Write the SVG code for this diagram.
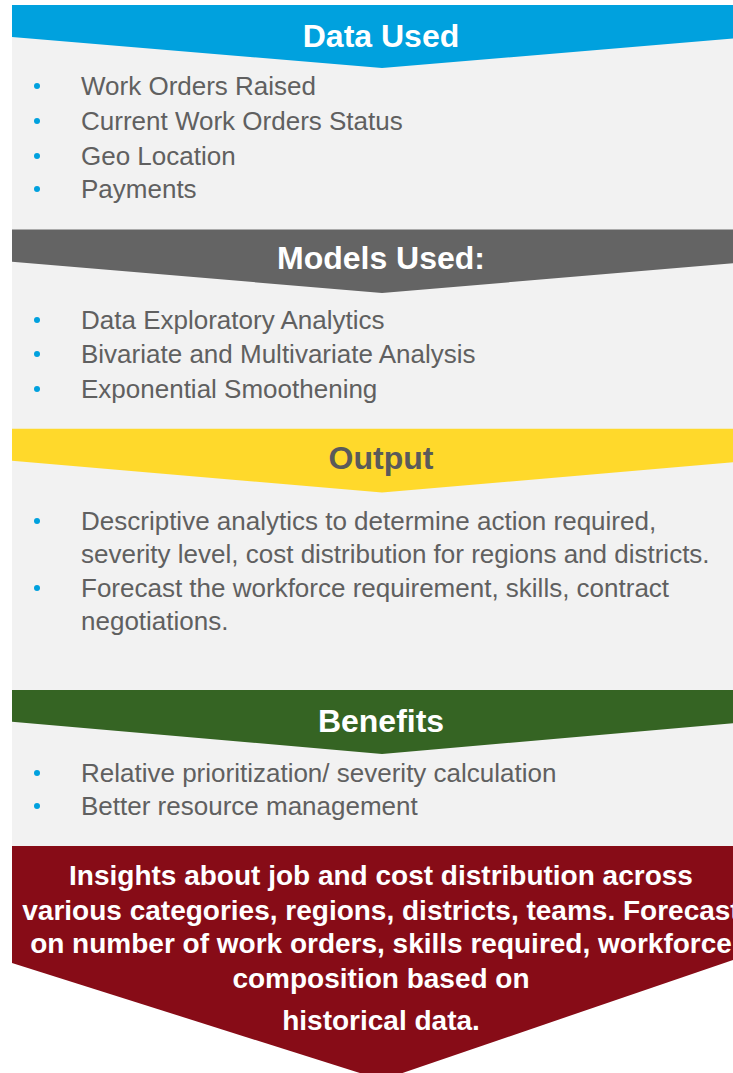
<svg xmlns="http://www.w3.org/2000/svg" width="733" height="1073" viewBox="0 0 733 1073">
<style>
.hd{font-family:"Liberation Sans",Arial,sans-serif;font-weight:bold;font-size:32px;text-anchor:middle;fill:#ffffff}
.bt{font-family:"Liberation Sans",Arial,sans-serif;font-size:26px;fill:#606060}
.dot{fill:#00a1de}
.rd{font-family:"Liberation Sans",Arial,sans-serif;font-weight:bold;font-size:28px;text-anchor:middle;fill:#ffffff}
</style>
<rect x="0" y="0" width="733" height="1073" fill="#ffffff"/>
<rect id="panel" x="12" y="5" width="721" height="842" fill="#f2f2f2"/>

<g id="data-used">
<polygon points="12,5 733,5 733,38.5 382,68 12,37" fill="#00a1de"/>
<text class="hd" x="381" y="47">Data Used</text>
<circle class="dot" cx="37" cy="86" r="3"/>
<text class="bt" x="81" y="95">Work Orders Raised</text>
<circle class="dot" cx="37" cy="121" r="3"/>
<text class="bt" x="81" y="130">Current Work Orders Status</text>
<circle class="dot" cx="37" cy="156" r="3"/>
<text class="bt" x="81" y="165">Geo Location</text>
<circle class="dot" cx="37" cy="189" r="3"/>
<text class="bt" x="81" y="198">Payments</text>
</g>

<g id="models-used">
<polygon points="12,229.5 733,229.5 733,263.3 382,293 12,261.7" fill="#646464"/>
<text class="hd" x="381" y="269">Models Used:</text>
<circle class="dot" cx="37" cy="320" r="3"/>
<text class="bt" x="81" y="329">Data Exploratory Analytics</text>
<circle class="dot" cx="37" cy="354" r="3"/>
<text class="bt" x="81" y="363">Bivariate and Multivariate Analysis</text>
<circle class="dot" cx="37" cy="389" r="3"/>
<text class="bt" x="81" y="398">Exponential Smoothening</text>
</g>

<g id="output">
<polygon points="12,428.7 733,428.7 733,462.3 382,492.5 12,460.7" fill="#ffd92b"/>
<text class="hd" x="381" y="469" style="fill:#5a5a5a">Output</text>
<circle class="dot" cx="37" cy="521" r="3"/>
<text class="bt" x="81" y="530">Descriptive analytics to determine action required,</text>
<text class="bt" x="81" y="563">severity level, cost distribution for regions and districts.</text>
<circle class="dot" cx="37" cy="588" r="3"/>
<text class="bt" x="81" y="597">Forecast the workforce requirement, skills, contract</text>
<text class="bt" x="81" y="630">negotiations.</text>
</g>

<g id="benefits">
<polygon points="12,690 733,690 733,723.3 382,754 12,721.7" fill="#356423"/>
<text class="hd" x="381" y="732">Benefits</text>
<circle class="dot" cx="37" cy="773" r="3"/>
<text class="bt" x="81" y="782">Relative prioritization/ severity calculation</text>
<circle class="dot" cx="37" cy="806" r="3"/>
<text class="bt" x="81" y="815">Better resource management</text>
</g>

<g id="insights">
<polygon points="12,846 733,846 733,960 382,1080 12,963" fill="#870c17"/>
<text class="rd" x="381" y="885">Insights about job and cost distribution across</text>
<text class="rd" x="381" y="920">various categories, regions, districts, teams. Forecast</text>
<text class="rd" x="381" y="953">on number of work orders, skills required, workforce</text>
<text class="rd" x="381" y="988">composition based on</text>
<text class="rd" x="381" y="1030">historical data.</text>
</g>

<g id="connectors"></g>
</svg>
